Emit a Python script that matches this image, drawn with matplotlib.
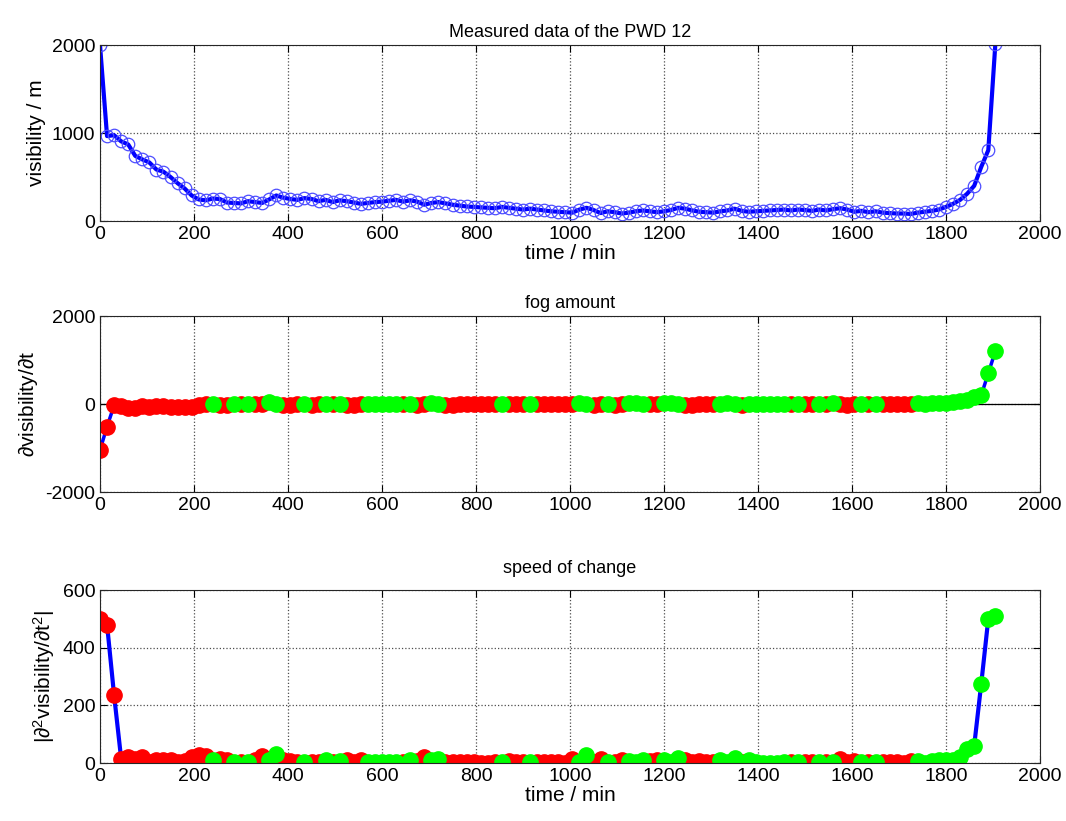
#!/usr/bin/env python
# -*- coding: utf8 -*-
'''
  PWD 12 fog plot: visibility, its first derivative, |second derivative|
'''
import numpy as np
import matplotlib
matplotlib.use('Agg')
import matplotlib.pyplot as plt

plt.rcParams['font.family'] = ['Liberation Sans', 'DejaVu Sans']
plt.rcParams['mathtext.fontset'] = 'custom'
plt.rcParams['mathtext.rm'] = 'Liberation Sans'
plt.rcParams['mathtext.it'] = 'Liberation Sans'
plt.rcParams['axes.unicode_minus'] = False

# sample times, one value every 15 min
t = np.arange(0, 1906, 15)

# visibility / m
vis = [2000, 965, 975, 905, 870, 740, 700, 665, 585, 560,
       500, 430, 370, 290, 245, 235, 255, 250, 210, 205,
       200, 225, 215, 205, 245, 290, 265, 250, 240, 260,
       250, 225, 240, 215, 235, 225, 210, 195, 205, 215,
       220, 230, 240, 220, 235, 220, 185, 205, 215, 200,
       185, 175, 165, 160, 155, 150, 145, 160, 150, 140,
       130, 140, 130, 120, 110, 105, 100, 95, 130, 150,
       125, 90, 110, 100, 85, 95, 110, 120, 110, 100,
       110, 125, 150, 140, 120, 105, 100, 95, 110, 120,
       140, 115, 105, 110, 115, 120, 125, 130, 120, 130,
       125, 115, 130, 120, 135, 145, 130, 105, 115, 100,
       110, 95, 90, 85, 85, 80, 95, 105, 115, 130,
       160, 195, 240, 310, 400, 615, 805, 2010]

# d visibility / dt
dvis = [-1045, -515, -30, -50, -80, -85, -40, -60, -50, -45,
        -65, -65, -70, -60, -30, -5, 8, -20, -20, 5,
        -3, 8, -10, -5, 40, 10, -20, -12, -5, 5,
        -18, -5, 3, -3, 5, -12, -15, -3, 10, 8,
        8, 10, 5, -3, 5, -25, -8, 15, 3, -15,
        -12, -10, -8, -5, -5, -5, -3, 3, -10, -10,
        -5, 3, -10, -10, -8, -5, -5, -3, 25, 5,
        -30, -8, 5, -12, -3, 12, 12, 5, -10, -5,
        12, 20, 8, -15, -18, -10, -5, -3, 8, 15,
        2, -18, 2, 5, 5, 5, 5, 3, -3, 3,
        -8, -3, 3, -3, 12, -3, -20, -8, 5, -3,
        2, -10, -5, -3, -3, -2, 12, 10, 12, 22,
        32, 40, 57, 80, 152, 200, 700, 1200]

# |d2 visibility / dt2|
d2vis = [500, 480, 235, 15, 20, 15, 20, 5, 10, 10,
         12, 5, 8, 20, 28, 25, 10, 15, 10, 5,
         5, 5, 10, 25, 10, 30, 10, 8, 5, 3,
         5, 5, 10, 5, 8, 10, 5, 12, 5, 3,
         3, 2, 5, 3, 10, 8, 20, 10, 15, 5,
         3, 3, 2, 2, 1, 1, 5, 3, 8, 5,
         5, 3, 5, 3, 2, 2, 1, 15, 5, 28,
         5, 15, 5, 5, 12, 8, 3, 10, 8, 10,
         12, 2, 18, 12, 5, 8, 3, 5, 10, 5,
         18, 5, 10, 2, 1, 1, 1, 3, 2, 3,
         3, 5, 2, 5, 3, 15, 5, 8, 3, 3,
         4, 4, 4, 2, 1, 8, 6, 1, 6, 10,
         9, 12, 20, 48, 60, 275, 500, 510]

vis = np.array(vis)
dvis = np.array(dvis)
d2vis = np.array(d2vis)
rise = dvis >= 0
fall = ~rise

W, H = 1066, 821
fig = plt.figure(figsize=(W / 100, H / 100), dpi=100)

def box(top, bot):
    return [100 / W, 1 - bot / H, 940 / W, (bot - top) / H]

def style(ax):
    ax.set_xlim(0, 2000)
    ax.set_xticks(np.arange(0, 2001, 200))
    ax.grid(True, linestyle=':', color='0.3', lw=0.9)
    ax.tick_params(direction='in', top=True, right=True, labelsize=14, length=5)
    for s in ax.spines.values():
        s.set_color('0.15')

ax1 = fig.add_axes(box(45, 221))
ax1.plot(t, vis, '-o', color='#0000ff', lw=3, ms=9, mfc='none',
         mec='#4d4dff', mew=0.9)
ax1.set_ylim(0, 2000)
ax1.set_yticks([0, 1000, 2000])
style(ax1)
ax1.set_title('Measured data of the PWD 12', fontsize=13)
ax1.set_xlabel('time / min', fontsize=15, labelpad=1)
ax1.set_ylabel('visibility / m', fontsize=15)

ax2 = fig.add_axes(box(316, 492))
ax2.axhline(0, color='k', lw=0.9)
ax2.plot(t, dvis, '-', color='#0000ff', lw=2.5)
ax2.plot(t[fall], dvis[fall], 'o', color='#ff0000', ms=11)
ax2.plot(t[rise], dvis[rise], 'o', color='#00ff00', ms=11)
ax2.set_ylim(-2000, 2000)
ax2.set_yticks([-2000, 0, 2000])
style(ax2)
ax2.set_title('fog amount', fontsize=13)
ax2.set_ylabel('$\\partial$visibility/$\\partial$t', fontsize=15)

ax3 = fig.add_axes(box(590, 763))
ax3.plot(t, d2vis, '-', color='#0000ff', lw=3)
ax3.plot(t[fall], d2vis[fall], 'o', color='#ff0000', ms=11)
ax3.plot(t[rise], d2vis[rise], 'o', color='#00ff00', ms=11)
ax3.set_ylim(0, 600)
ax3.set_yticks([0, 200, 400, 600])
style(ax3)
ax3.set_title('speed of change', fontsize=13, pad=12)
ax3.set_xlabel('time / min', fontsize=15, labelpad=1)
ax3.set_ylabel('|$\\partial^2$visibility/$\\partial$t$^2$|', fontsize=15)

fig.savefig('out.png', dpi=100)
